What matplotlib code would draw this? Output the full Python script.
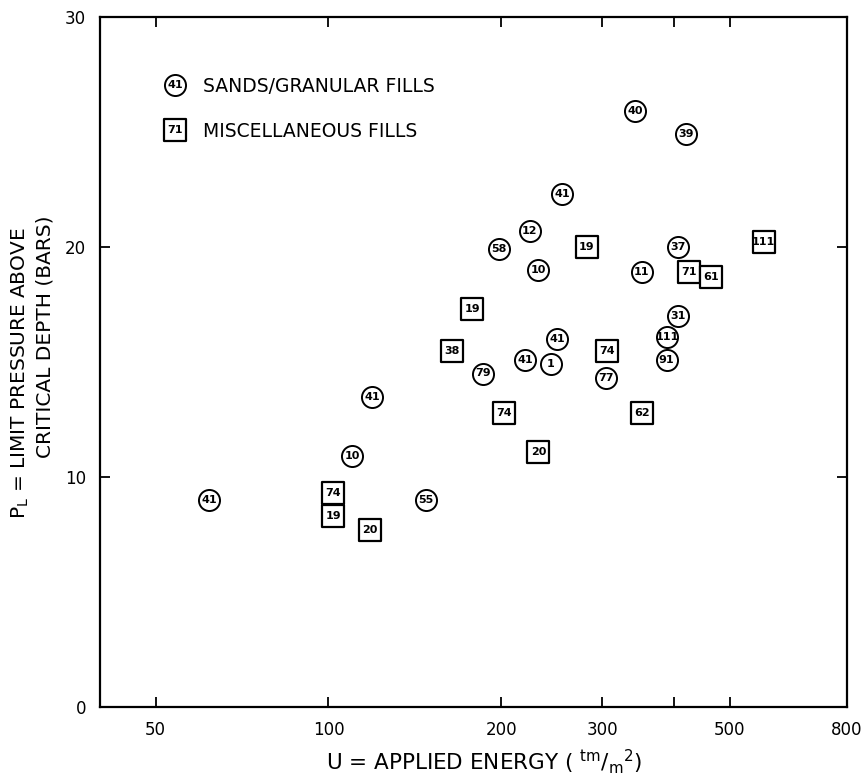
import matplotlib
matplotlib.use('Agg')
import matplotlib.pyplot as plt

# sands / granular fills (circles)
sand_u = [62, 110, 119, 148, 186, 198, 224, 232, 255, 220, 244, 250, 304, 342, 351, 420, 407, 407, 389, 388]
sand_pl = [9.0, 10.9, 13.5, 9.0, 14.5, 19.9, 20.7, 19.0, 22.3, 15.1, 14.9, 16.0, 14.3, 25.9, 18.9, 24.9, 20.0, 17.0, 16.1, 15.1]
sand_id = ['41', '10', '41', '55', '79', '58', '12', '10', '41', '41', '1', '41', '77', '40', '11', '39', '37', '31', '111', '91']

# miscellaneous fills (squares)
fill_u = [102, 102, 118, 164, 178, 202, 232, 282, 306, 352, 424, 464, 573]
fill_pl = [9.3, 8.3, 7.7, 15.5, 17.3, 12.8, 11.1, 20.0, 15.5, 12.8, 18.9, 18.7, 20.2]
fill_id = ['74', '19', '20', '38', '19', '74', '20', '19', '74', '62', '71', '61', '111']

xticks = [50, 100, 200, 300, 400, 500, 800]
xticklabels = ['50', '100', '200', '300', '', '500', '800']
yticks = [0, 10, 20, 30]

fig = plt.figure(figsize=(8.68, 7.79), dpi=100)
ax = fig.add_axes([100/868, 72/779, 747/868, 690/779])

ax.scatter(sand_u, sand_pl, s=230, marker='o', facecolors='white', edgecolors='black', linewidths=1.4, zorder=3)
ax.scatter(fill_u, fill_pl, s=230, marker='s', facecolors='white', edgecolors='black', linewidths=1.6, zorder=3)
for u, p, t in zip(sand_u, sand_pl, sand_id):
    ax.text(u, p, t, ha='center', va='center', fontsize=8, fontweight='bold', zorder=4)
for u, p, t in zip(fill_u, fill_pl, fill_id):
    ax.text(u, p, t, ha='center', va='center', fontsize=8, fontweight='bold', zorder=4)

ax.set_xscale('log')
ax.set_xlim(40, 800)
ax.set_ylim(0, 30)
ax.set_xticks(xticks)
ax.set_xticklabels(xticklabels)
ax.minorticks_off()
ax.set_yticks(yticks)
ax.tick_params(direction='in', length=7, width=1.3, top=True, right=True, labelsize=12, pad=10)
for s in ax.spines.values():
    s.set_linewidth(1.6)

# legend drawn by hand, like the original
ax.scatter([0.101], [0.902], s=230, marker='o', facecolors='white', edgecolors='black', linewidths=1.4, transform=ax.transAxes, clip_on=False)
ax.text(0.101, 0.902, '41', transform=ax.transAxes, ha='center', va='center', fontsize=8, fontweight='bold')
ax.text(0.138, 0.900, 'SANDS/GRANULAR FILLS', transform=ax.transAxes, ha='left', va='center', fontsize=13.5)
ax.scatter([0.101], [0.836], s=230, marker='s', facecolors='white', edgecolors='black', linewidths=1.6, transform=ax.transAxes, clip_on=False)
ax.text(0.101, 0.836, '71', transform=ax.transAxes, ha='center', va='center', fontsize=8, fontweight='bold')
ax.text(0.138, 0.834, 'MISCELLANEOUS FILLS', transform=ax.transAxes, ha='left', va='center', fontsize=13.5)

fig.text(484/868, 1 - 762/779, r'U = APPLIED ENERGY ( $^{\mathrm{tm}}/_{\mathrm{m}}{}^{2}$)', ha='center', va='center', fontsize=15.5)
fig.text(20/868, 1 - 373/779, r'P$_{\mathrm{L}}$ = LIMIT PRESSURE ABOVE', rotation=90, ha='center', va='center', fontsize=14.5)
fig.text(45/868, 1 - 337/779, 'CRITICAL DEPTH (BARS)', rotation=90, ha='center', va='center', fontsize=14.5)

fig.savefig('out.png', dpi=100)
